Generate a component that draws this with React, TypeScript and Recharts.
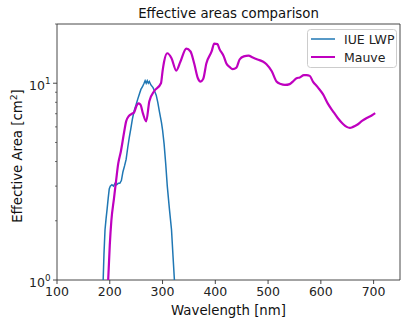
import { LineChart, Line, XAxis, YAxis, ReferenceArea, Legend, Label } from "recharts";

// IUE LWP effective area (cm^2) vs wavelength (nm)
const iueWave = [
  187.5, 189, 191, 193, 195, 197, 199, 201, 204, 207, 210, 213, 216, 219, 222, 225, 228, 231,
  234, 237, 240, 243, 246, 250, 253, 256, 259, 262, 265, 267, 269, 271, 273, 275, 278, 282,
  285, 288, 291, 294, 298, 300, 303, 306, 309, 313, 317, 320, 322.5,
];
const iueArea = [
  1.0, 1.35, 1.8, 2.05, 2.3, 2.6, 2.9, 3.0, 3.05, 3.0, 3.1, 3.05, 3.1, 3.1, 3.2, 3.55, 3.8, 4.1,
  4.7, 5.3, 5.9, 6.6, 7.2, 7.8, 8.3, 8.8, 9.3, 9.6, 10.0, 10.3, 10.0, 10.3, 10.0, 10.2, 9.8, 9.5,
  9.1, 8.7, 8.0, 7.2, 6.3, 5.8, 4.9, 3.9, 3.0, 2.3, 1.8, 1.3, 1.0,
];

// Mauve effective area (cm^2) vs wavelength (nm)
const mauveWave = [
  197, 200, 203, 208, 212, 216, 221, 227, 231, 236, 242, 246, 250, 254, 258, 263, 269, 275,
  284, 297, 300, 303, 309, 317, 326, 334, 345, 353, 360, 367, 372, 377, 383, 393, 398, 404,
  408, 416, 421, 427, 433, 440, 446, 454, 463, 471, 480, 490, 497, 507, 516, 524, 532, 541,
  547, 554, 560, 568, 573, 579, 585, 594, 604, 613, 623, 632, 642, 649, 655, 661, 668, 678,
  687, 697, 703,
];
const mauveArea = [
  1.0, 1.5, 2.0, 2.6, 3.2, 3.9, 4.5, 5.6, 6.4, 6.8, 7.0, 7.1, 7.6, 7.9, 7.8, 7.0, 6.4, 8.1,
  9.1, 10.0, 11.5, 12.9, 14.2, 13.4, 11.6, 12.9, 15.0, 14.5, 12.6, 10.6, 10.2, 10.5, 12.6, 14.5, 15.9, 15.8,
  14.9, 13.7, 12.6, 12.1, 11.8, 12.0, 13.2, 13.7, 13.8, 13.5, 13.2, 12.9, 12.5, 11.5, 10.2, 9.9, 9.8, 9.9,
  10.2, 10.6, 10.7, 11.0, 11.0, 10.9, 10.2, 9.55, 8.8, 7.9, 7.2, 6.66, 6.21, 6.0, 5.93, 6.0, 6.13, 6.43,
  6.66, 6.88, 7.05,
];

const seriesNames = ["IUE LWP", "Mauve"];
const seriesColors = ["#1f77b4", "#bf00bf"];
const xTicks = [100, 200, 300, 400, 500, 600, 700];
const yTicks = [1, 2, 3, 4, 5, 6, 7, 8, 9, 10, 20];
const yMajor = [1, 10];

const iueData = iueWave.map((w, i) => ({ w, a: iueArea[i] }));
const mauveData = mauveWave.map((w, i) => ({ w, a: mauveArea[i] }));

const FONT = "DejaVu Sans";

const YTick = (props: any) => {
  const { x, y, payload } = props;
  const v = payload.value;
  const major = yMajor.includes(v);
  return (
    <g>
      <line x1={x} x2={x - (major ? 4 : 2)} y1={y} y2={y} stroke="#333" strokeWidth={major ? 0.9 : 0.7} />
      {major && (
        <text x={x - 6.5} y={y + 6.5} textAnchor="end" fontSize={12.5} fill="#222" fontFamily={FONT}>
          10
          <tspan dy={-5.5} fontSize={8.8}>
            {Math.round(Math.log10(v))}
          </tspan>
        </text>
      )}
    </g>
  );
};

const LegendBox = () => (
  <svg width={90} height={39} style={{ display: "block" }}>
    <rect x={0.5} y={0.5} width={89} height={38} rx={3} fill="#fff" fillOpacity={0.8} stroke="#ccc" />
    {seriesNames.map((name, i) => (
      <g key={name}>
        <line x1={4} x2={28} y1={10 + i * 18} y2={10 + i * 18} stroke={seriesColors[i]} strokeWidth={i ? 2 : 1.5} />
        <text x={37} y={14.5 + i * 18} fontSize={12.5} fill="#222" fontFamily={FONT}>
          {name}
        </text>
      </g>
    ))}
  </svg>
);

const App = () => {
  return (
    <div style={{ position: "absolute", left: 0, top: 0, width: 411, height: 324, background: "#fff" }}>
      <div
        style={{
          position: "absolute",
          left: 57,
          width: 343,
          top: 6,
          textAlign: "center",
          fontFamily: FONT,
          fontSize: 13.3,
          lineHeight: "16px",
          color: "#111",
        }}
      >
        Effective areas comparison
      </div>
      <LineChart width={411} height={324} margin={{ top: 24, right: 11, bottom: 0, left: 0 }}>
        <XAxis
          type="number"
          dataKey="w"
          domain={[100, 750]}
          ticks={xTicks}
          allowDataOverflow
          height={44}
          tickSize={4}
          tickMargin={3}
          axisLine={false}
          tickLine={{ stroke: "#333", strokeWidth: 0.9 }}
          tick={{ fill: "#222", fontSize: 12.5, fontFamily: FONT }}
        >
          <Label
            content={() => (
              <text x={228.5} y={315} textAnchor="middle" fontSize={13.3} fill="#111" fontFamily={FONT}>
                Wavelength [nm]
              </text>
            )}
          />
        </XAxis>
        <YAxis
          type="number"
          dataKey="a"
          scale="log"
          domain={[1, 20]}
          ticks={yTicks}
          allowDataOverflow
          width={57}
          tickSize={0}
          tickMargin={0}
          axisLine={false}
          tickLine={false}
          tick={<YTick />}
          interval={0}
        >
          <Label
            content={() => (
              <text
                x={22}
                y={156}
                transform="rotate(-90 22 156)"
                textAnchor="middle"
                fontSize={13.3}
                fill="#111"
                fontFamily={FONT}
              >
                Effective Area [cm
                <tspan dy={-5} fontSize={9.3}>
                  2
                </tspan>
                <tspan dy={5}>]</tspan>
              </text>
            )}
          />
        </YAxis>
        <Line
          data={iueData}
          dataKey="a"
          name={seriesNames[0]}
          type="linear"
          stroke={seriesColors[0]}
          strokeWidth={1.5}
          dot={false}
          isAnimationActive={false}
        />
        <Line
          data={mauveData}
          dataKey="a"
          name={seriesNames[1]}
          type="monotone"
          stroke={seriesColors[1]}
          strokeWidth={2.2}
          dot={false}
          isAnimationActive={false}
        />
        <ReferenceArea
          x1={100}
          x2={750}
          y1={1}
          y2={20}
          fill="none"
          stroke="#333"
          strokeWidth={0.9}
          ifOverflow="visible"
        />
        <Legend
          layout="horizontal"
          align="center"
          verticalAlign="middle"
          wrapperStyle={{ top: 29, left: 307, width: 90, height: 39 }}
          content={() => <LegendBox />}
        />
      </LineChart>
    </div>
  );
};

export default App;
